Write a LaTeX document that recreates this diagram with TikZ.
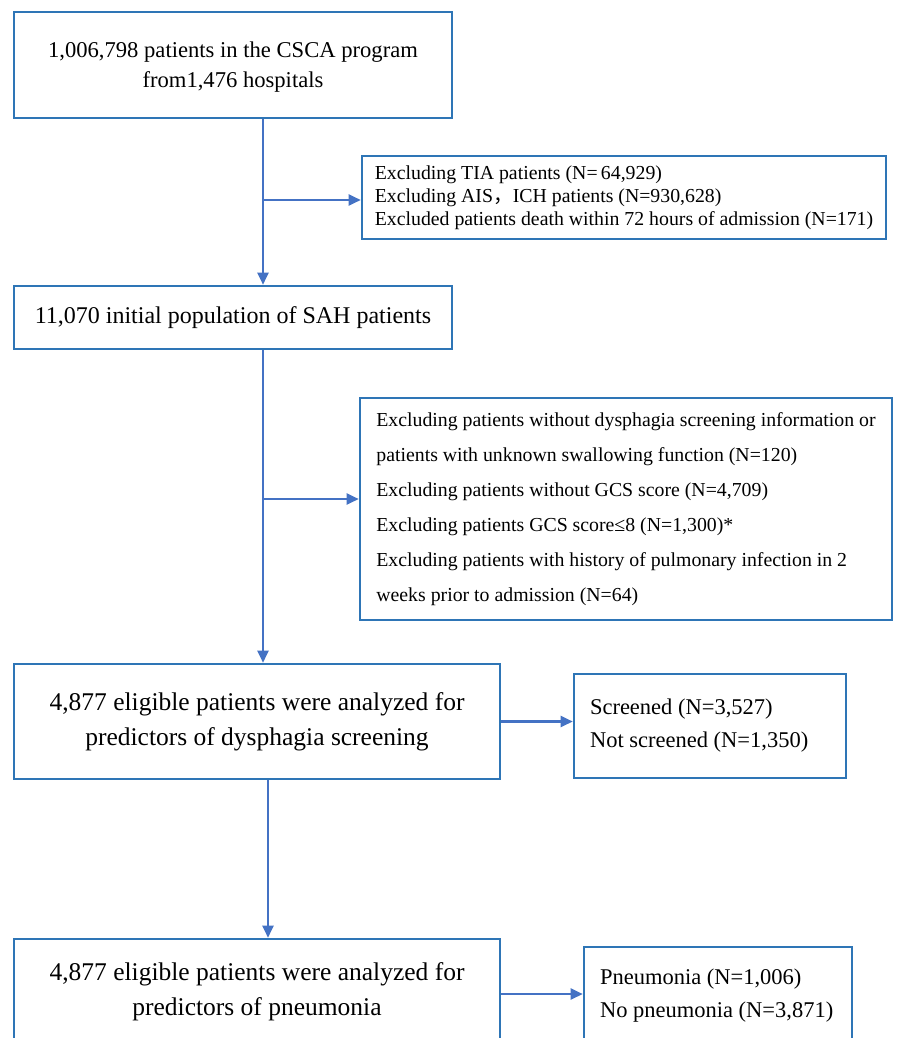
\documentclass[tikz,border=0pt]{standalone}
\usepackage{fontspec}
\setmainfont{Liberation Serif}
\newfontfamily\cjk{Noto Sans CJK SC}
\usetikzlibrary{arrows.meta}
\definecolor{boxblue}{RGB}{46,117,182}
\definecolor{lineblue}{RGB}{68,114,196}
\begin{document}
\begin{tikzpicture}[x=1pt,y=-1pt,
  box/.style={draw=boxblue, line width=2.6pt, rectangle, inner sep=0pt,
    execute at begin node={\spaceskip=0pt\xspaceskip=0pt\relax}},
  conn/.style={draw=lineblue, line width=2.3pt},
  arr/.style={conn, -{Triangle[length=12pt,width=11pt]}},
  bigtxt/.style={font=\fontsize{25.5}{35}\selectfont},
  midtxt/.style={font=\fontsize{22.5}{33}\selectfont},
  smalltxt/.style={font=\fontsize{19.8}{23}\selectfont}]
\useasboundingbox[fill=white] (0,0) rectangle (897,1038);

\node[box, minimum width=438pt, minimum height=106pt, align=center,
  font=\fontsize{22.6}{30}\selectfont] (b1) at (233,65)
  {\rule{0pt}{20pt}1,006,798 patients in the CSCA program\\from1,476 hospitals};

\node[box, smalltxt, minimum width=524pt, minimum height=83pt, align=left] (e1) at (624,197.5)
  {Excluding TIA patients (N=\,64,929)\\
   Excluding AIS{\cjk ，}ICH patients (N=930,628)\\
   Excluded patients death within 72 hours of admission (N=171)};

\node[box, minimum width=438pt, minimum height=63pt, align=center,
  font=\fontsize{24}{30}\selectfont] (b2) at (233,317.5)
  {11,070 initial population of SAH patients};

\node[box, font=\fontsize{19.8}{35}\selectfont, minimum width=532pt, minimum height=222pt, align=left] (e2) at (626,509)
  {Excluding patients without dysphagia screening information or\\
   patients with unknown swallowing function (N=120)\\
   Excluding patients without GCS score (N=4,709)\\
   Excluding patients GCS score≤8 (N=1,300)*\\
   Excluding patients with history of pulmonary infection in 2\\
   weeks prior to admission (N=64)};

\node[box, bigtxt, minimum width=486pt, minimum height=115pt, align=center] (b3) at (257,721.5)
  {4,877 eligible patients were analyzed for\\predictors of dysphagia screening};

\node[box, midtxt, minimum width=272pt, minimum height=104pt, text width=240pt, align=left] (b4) at (710,726)
  {Screened (N=3,527)\\Not screened (N=1,350)};

\node[box, midtxt, minimum width=268pt, minimum height=98pt, text width=236pt, align=left] (b6) at (718,996)
  {Pneumonia (N=1,006)\\No pneumonia (N=3,871)};

\node[box, bigtxt, minimum width=486pt, minimum height=105pt, align=center] (b5) at (257,991.5)
  {4,877 eligible patients were analyzed for\\predictors of pneumonia};

\coordinate (j1) at (263,200);
\coordinate (j2) at (263,499);
\coordinate (j3) at (268,0);
\coordinate (a5) at (0,994);

\draw[arr] (b1.south -| j1) -- (b2.north -| j1);
\draw[arr] (j1) -- (j1 -| e1.west);
\draw[arr] (b2.south -| j2) -- (b3.north -| j2);
\draw[arr] (j2) -- (j2 -| e2.west);
\draw[arr] (b3.south -| j3) -- (b5.north -| j3);
\draw[arr] (b3.east) -- (b3.east -| b4.west);
\draw[arr] (b5.east |- a5) -- (a5 -| b6.west);
\end{tikzpicture}
\end{document}
